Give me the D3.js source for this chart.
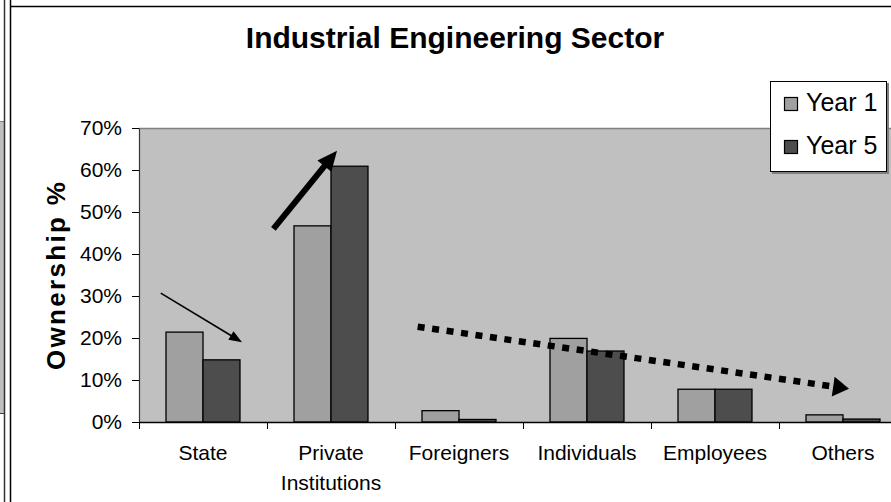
<!DOCTYPE html>
<html><head><meta charset="utf-8">
<script src="https://cdn.jsdelivr.net/npm/d3@7"></script>
<style>html,body{margin:0;padding:0;background:#fff;overflow:hidden}svg{display:block;font-family:"Liberation Sans",Arial,sans-serif}</style>
</head><body><svg id="c" width="891" height="502"></svg>
<script>
const categories = ["State", "Private\nInstitutions", "Foreigners", "Individuals", "Employees", "Others"];
const seriesNames = ["Year 1", "Year 5"];
const year1 = [0.214, 0.467, 0.027, 0.199, 0.078, 0.017];
const year5 = [0.148, 0.609, 0.006, 0.169, 0.078, 0.007];
const yTicks = [0, 0.1, 0.2, 0.3, 0.4, 0.5, 0.6, 0.7];
const colors = ["#a0a0a0", "#4d4d4d"];
// annotation arrows, in data space: [category position, value]
const arrows = [
  {from: [0.17, 0.307], to: [0.805, 0.19], width: 1.6, dash: null, head: [13, 10]},
  {from: [1.05, 0.46], to: [1.547, 0.646], width: 6, dash: null, head: [20, 18]},
  {from: [2.177, 0.227], to: [5.547, 0.079], width: 6.5, dash: "7,7.6", head: [16, 20]}
];

const svg = d3.select("#c");
const L = 139, T = 128, B = 422, step = 128;
const x = d3.scaleBand().domain(categories).range([L, L + step * categories.length]).padding(0);
const xs = d3.scaleBand().domain(seriesNames).range([0, x.bandwidth()]).paddingInner(0).paddingOuter(0.73);
const y = d3.scaleLinear().domain([0, 0.7]).range([B, T]);
const xPos = u => L + u * x.step();

// side frame decorations
svg.append("rect").attr("x", 0).attr("y", 121).attr("width", 5).attr("height", 293).attr("fill", "#c0c0c0");
svg.append("line").attr("x1", 0).attr("x2", 5).attr("y1", 121.5).attr("y2", 121.5).attr("stroke", "#808080");
svg.append("line").attr("x1", 0).attr("x2", 5).attr("y1", 413.5).attr("y2", 413.5).attr("stroke", "#404040");
svg.append("line").attr("x1", 4.5).attr("x2", 4.5).attr("y1", 0).attr("y2", 502).attr("stroke", "#333").attr("stroke-width", 1.5);
svg.append("line").attr("x1", 10.5).attr("x2", 10.5).attr("y1", 0).attr("y2", 502).attr("stroke", "#000").attr("stroke-width", 1.5);
svg.append("line").attr("x1", 10).attr("x2", 891).attr("y1", 6.5).attr("y2", 6.5).attr("stroke", "#000").attr("stroke-width", 1.5);

// plot area
svg.append("rect").attr("x", L).attr("y", T).attr("width", x.range()[1] - L).attr("height", B - T).attr("fill", "#c0c0c0");
svg.append("line").attr("x1", L).attr("x2", 891).attr("y1", T + 0.5).attr("y2", T + 0.5).attr("stroke", "#808080").attr("stroke-width", 1.5);

// bars
const data = categories.map((c, i) => ({c, vals: [year1[i], year5[i]]}));
const g = svg.append("g");
data.forEach(d => {
  d.vals.forEach((v, j) => {
    g.append("rect")
      .attr("x", x(d.c) + xs(seriesNames[j]))
      .attr("y", y(v))
      .attr("width", xs.bandwidth())
      .attr("height", B - y(v))
      .attr("fill", colors[j]).attr("stroke", "#000").attr("stroke-width", 1.3);
  });
});

// y axis
const ya = svg.append("g").attr("transform", `translate(${L},0)`)
  .call(d3.axisLeft(y).tickValues(yTicks).tickFormat(d3.format(".0%")).tickSize(7).tickSizeOuter(0));
ya.select(".domain").attr("stroke", "#333").attr("stroke-width", 1.2);
ya.selectAll(".tick line").attr("stroke", "#000");
ya.selectAll(".tick text").attr("x", -17).attr("font-size", 21).attr("fill", "#000").attr("font-family", "Liberation Sans, Arial, sans-serif");

// x axis
const xa = svg.append("g").attr("transform", `translate(0,${B})`);
xa.append("line").attr("x1", L).attr("x2", 891).attr("y1", 0.5).attr("y2", 0.5).attr("stroke", "#000").attr("stroke-width", 1.3);
const bounds = d3.range(categories.length + 1).map(i => L + i * x.step());
xa.selectAll(".tk").data(bounds).join("line").attr("x1", d => d + 0.5).attr("x2", d => d + 0.5).attr("y1", 0).attr("y2", 7).attr("stroke", "#000");
xa.selectAll(".lbl").data(categories).join("text")
  .attr("x", d => x(d) + x.bandwidth() / 2).attr("y", 38)
  .attr("text-anchor", "middle").attr("font-size", 21).attr("fill", "#000")
  .each(function(d) {
    d.split("\n").forEach((ln, i) => d3.select(this).append("tspan").attr("x", x(d) + x.bandwidth() / 2).attr("dy", i ? 30 : 0).text(ln));
  });

// title and axis label
svg.append("text").attr("x", 455).attr("y", 48).attr("text-anchor", "middle").attr("font-size", 30).attr("font-weight", "bold").text("Industrial Engineering Sector");
svg.append("text").attr("transform", "translate(65,276) rotate(-90)").attr("text-anchor", "middle")
  .attr("font-size", 26).attr("font-weight", "bold").attr("textLength", 188).attr("lengthAdjust", "spacing").text("Ownership %");

// arrows
arrows.forEach(a => {
  const x1 = xPos(a.from[0]), y1 = y(a.from[1]), x2 = xPos(a.to[0]), y2 = y(a.to[1]);
  const ang = Math.atan2(y2 - y1, x2 - x1);
  const [hl, hw] = a.head;
  const bx = x2 - hl * Math.cos(ang), by = y2 - hl * Math.sin(ang);
  svg.append("line").attr("x1", x1).attr("y1", y1).attr("x2", bx + Math.cos(ang) * 2).attr("y2", by + Math.sin(ang) * 2)
    .attr("stroke", "#000").attr("stroke-width", a.width).attr("stroke-dasharray", a.dash);
  const px = -Math.sin(ang) * hw / 2, py = Math.cos(ang) * hw / 2;
  svg.append("path").attr("d", `M${x2},${y2}L${bx + px},${by + py}L${bx - px},${by - py}Z`).attr("fill", "#000");
});

// legend
const lg = svg.append("g");
lg.append("rect").attr("x", 772).attr("y", 83).attr("width", 117).attr("height", 91).attr("fill", "#808080");
lg.append("rect").attr("x", 770.5).attr("y", 81.5).attr("width", 116).attr("height", 90).attr("fill", "#fff").attr("stroke", "#000");
seriesNames.forEach((s, i) => {
  lg.append("rect").attr("x", 784.5).attr("y", 97.5 + i * 43).attr("width", 13).attr("height", 13).attr("fill", colors[i]).attr("stroke", "#000").attr("stroke-width", 1.2);
  lg.append("text").attr("x", 806).attr("y", 111 + i * 43).attr("font-size", 25).text(s);
});
</script></body></html>
